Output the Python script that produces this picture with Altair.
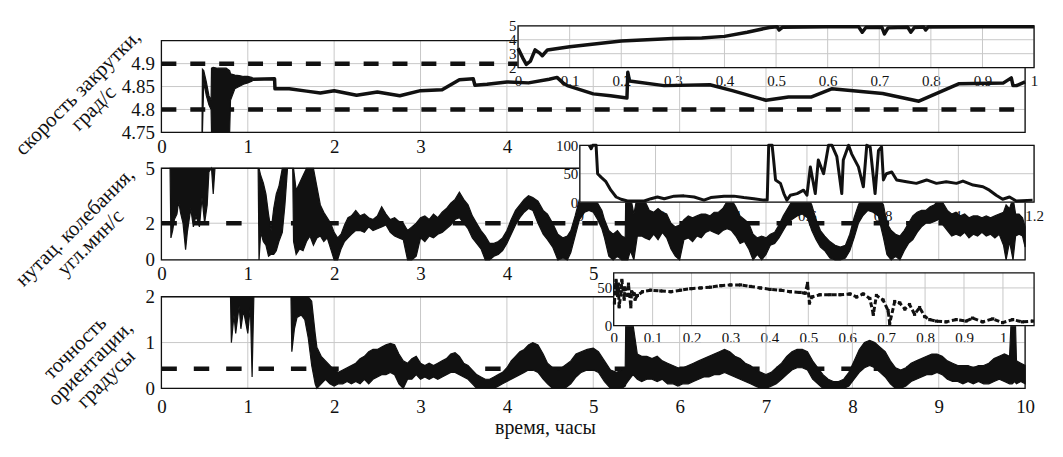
import altair as alt
import pandas as pd

FONT = "Liberation Serif"
INK = "#111111"
GRID = "#c8c8c8"

# ---------------- tick values ----------------
main_xticks = [0, 1, 2, 3, 4, 5, 6, 7, 8, 9, 10]
top_xlabels = [0, 1, 2, 3, 4]
mid_xlabels = [0, 1, 2, 3, 4, 5]
bot_xlabels = [0, 1, 2, 3, 4, 5, 6, 7, 8, 9, 10]
top_yticks = [4.75, 4.8, 4.85, 4.9]
mid_yticks = [0, 2, 5]
bot_yticks = [0, 1, 2]
in1_xticks = [0, 0.1, 0.2, 0.3, 0.4, 0.5, 0.6, 0.7, 0.8, 0.9, 1]
in1_yticks = [2, 3, 4, 5]
in2_xticks = [0, 0.2, 0.4, 0.6, 0.8, 1, 1.2]
in2_yticks = [0, 50, 100]
in3_xticks = [0, 0.1, 0.2, 0.3, 0.4, 0.5, 0.6, 0.7, 0.8, 0.9, 1]
in3_yticks = [0, 50]

# reference (dashed) levels
top_ref = [4.9, 4.8]
mid_ref = [2]
bot_ref = [0.43]

# ---------------- panel 1: spin rate ----------------
top_x = [1.05, 1.31, 1.315, 1.48, 1.68, 1.84, 2.0, 2.26, 2.5, 2.76, 3.0, 3.25, 3.45, 3.61, 3.63, 3.77,
         4.0, 4.25, 4.49, 4.58, 4.65, 4.7, 5.0, 5.2, 5.39, 5.40, 5.42, 5.82, 6.35, 6.61, 7.0, 7.26,
         7.52, 7.76, 8.35, 8.77, 9.23, 9.75, 9.84, 9.86, 9.9, 10]
top_v = [4.866, 4.867, 4.845, 4.845, 4.840, 4.836, 4.841, 4.831, 4.838, 4.830, 4.841, 4.843, 4.865,
         4.867, 4.853, 4.855, 4.860, 4.858, 4.866, 4.870, 4.858, 4.852, 4.834, 4.830, 4.825, 4.881,
         4.862, 4.852, 4.854, 4.841, 4.820, 4.827, 4.827, 4.845, 4.835, 4.818, 4.856, 4.858, 4.869,
         4.852, 4.852, 4.860]
topb_x = [0.47, 0.475, 0.49, 0.52, 0.55, 0.575, 0.58, 0.60, 0.65, 0.70, 0.75, 0.79, 0.80, 0.85, 0.90, 0.95, 1.00, 1.05]
topb_lo = [4.75, 4.75, 4.86, 4.83, 4.81, 4.80, 4.75, 4.75, 4.75, 4.75, 4.75, 4.75, 4.82, 4.845, 4.85, 4.855, 4.858, 4.862]
topb_hi = [4.75, 4.888, 4.885, 4.86, 4.83, 4.82, 4.89, 4.892, 4.89, 4.89, 4.89, 4.885, 4.878, 4.875, 4.874, 4.872, 4.872, 4.870]

# ---------------- panel 2: nutation (band lo/hi) ----------------
mid_x = [0.10, 0.11, 0.13, 0.15, 0.18, 0.20, 0.22, 0.25, 0.28, 0.30, 0.34, 0.37, 0.40, 0.44, 0.47, 0.50, 0.53, 0.55, 0.58, 0.60, 0.62,
         1.12, 1.13, 1.15, 1.18, 1.21, 1.24, 1.27, 1.30, 1.33, 1.36, 1.40, 1.43, 1.46, 1.52, 1.53, 1.56, 1.60, 1.64, 1.68, 1.72, 1.76, 1.80, 1.84, 1.88, 1.92, 1.96,
         2.00, 2.04, 2.08, 2.12, 2.16, 2.20, 2.25, 2.30, 2.35, 2.40, 2.45, 2.50, 2.55, 2.60, 2.65, 2.70, 2.75, 2.80, 2.85, 2.90, 2.95,
         3.00, 3.05, 3.10, 3.15, 3.20, 3.25, 3.30, 3.35, 3.40, 3.45, 3.50, 3.55, 3.60, 3.65, 3.70, 3.75, 3.80, 3.85, 3.90, 3.95,
         4.00, 4.05, 4.10, 4.15, 4.20, 4.25, 4.30, 4.36, 4.42, 4.47, 4.53, 4.59, 4.65, 4.70, 4.74, 4.79, 4.84, 4.90, 4.95,
         5.00, 5.05, 5.10, 5.13, 5.18, 5.23, 5.28, 5.33, 5.37, 5.38, 5.40, 5.43, 5.47, 5.51, 5.56, 5.60, 5.65, 5.70, 5.75, 5.80, 5.85, 5.90, 5.95,
         6.00, 6.05, 6.10, 6.15, 6.20, 6.25, 6.30, 6.35, 6.40, 6.45, 6.50, 6.55, 6.60, 6.65, 6.70, 6.75, 6.80, 6.85, 6.90, 6.95,
         7.00, 7.05, 7.10, 7.15, 7.20, 7.25, 7.30, 7.36, 7.42, 7.48, 7.53, 7.58, 7.63, 7.68, 7.74, 7.80, 7.86, 7.92, 7.97,
         8.02, 8.07, 8.12, 8.18, 8.24, 8.30, 8.36, 8.40, 8.45, 8.50, 8.55, 8.60, 8.65, 8.70, 8.75, 8.80, 8.85, 8.90, 8.95,
         9.00, 9.05, 9.10, 9.15, 9.20, 9.25, 9.30, 9.35, 9.40, 9.45, 9.50, 9.55, 9.60, 9.65, 9.70, 9.75, 9.78, 9.82, 9.86, 9.89, 9.93, 9.97, 10.0]
mid_lo = [5.0, 1.2, 1.6, 2.2, 2.5, 3.2, 2.6, 2.0, 0.55, 1.5, 2.8, 1.8, 2.4, 1.8, 3.4, 2.0, 3.0, 4.8, 5.0, 3.6, 5.0,
          5.0, 0.0, 1.5, 1.0, 0.8, 0.2, 0.3, 0.3, 0.5, 1.0, 1.5, 3.0, 5.0, 5.0, 1.0, 0.3, 0.6, 0.5, 1.0, 1.3, 0.8, 1.2, 1.3, 1.0, 1.2, 0.6,
          0.0, 0.0, 0.6, 1.0, 1.2, 1.4, 1.6, 1.6, 1.5, 1.8, 1.6, 1.7, 1.8, 1.9, 1.5, 1.3, 1.2, 1.1, 0.0, 0.0, 0.2,
          1.2, 1.0, 1.3, 1.2, 1.4, 1.5, 1.7, 1.9, 2.2, 2.3, 2.0, 1.7, 1.2, 0.9, 0.6, 0.0, 0.0, 0.2, 0.3, 0.5,
          0.9, 1.4, 1.9, 2.3, 2.6, 2.8, 2.7, 2.0, 1.4, 1.1, 0.7, 0.0, 0.1, 0.0, 0.4, 1.3, 2.2, 2.6, 2.7,
          2.6, 2.2, 1.7, 1.2, 0.2, 0.0, 0.2, 0.0, 0.0, 0.0, 0.0, 0.5, 0.0, 1.3, 1.3, 1.2, 1.1, 1.4, 1.1, 1.5, 1.2, 0.6, 0.2,
          0.0, 1.1, 1.2, 1.0, 1.3, 1.2, 1.5, 1.6, 1.5, 1.4, 1.6, 1.7, 1.6, 1.3, 0.9, 1.0, 0.6, 0.0, 0.3, 0.0,
          0.3, 0.8, 0.9, 1.2, 1.6, 2.0, 2.2, 2.4, 2.5, 2.3, 1.6, 1.1, 0.7, 0.5, 0.1, 0.0, 0.0, 0.1, 0.5,
          1.2, 2.0, 2.4, 2.7, 2.6, 2.4, 1.2, 0.3, 0.0, 0.2, 0.0, 0.5, 0.9, 1.1, 1.5, 1.8, 2.0, 2.0, 2.1,
          2.2, 1.9, 1.6, 1.3, 1.4, 1.3, 1.5, 1.2, 1.4, 1.3, 1.5, 1.3, 1.4, 1.2, 1.4, 0.8, 0.0, 1.0, 0.0, 1.3, 1.4, 1.3, 0.7]
mid_hi = [5.0, 5.0, 5.0, 5.0, 5.0, 5.0, 5.0, 5.0, 5.0, 5.0, 5.0, 5.0, 5.0, 5.0, 5.0, 5.0, 5.0, 5.0, 5.0, 5.0, 5.0,
          5.0, 5.0, 4.6, 4.2, 3.6, 2.5, 1.6, 2.8, 3.6, 4.0, 5.0, 5.0, 5.0, 5.0, 5.0, 3.8, 4.2, 4.6, 5.0, 5.0, 5.0, 4.0, 3.0, 2.6, 2.3, 2.0,
          1.5, 1.2, 1.4, 1.9, 2.3, 2.4, 2.7, 2.4, 2.5, 2.3, 2.2, 2.4, 2.9, 2.5, 2.2, 2.3, 2.1, 2.0, 1.6, 1.8, 2.0,
          2.3, 2.4, 2.2, 2.5, 2.3, 2.6, 2.8, 3.1, 3.3, 3.7, 3.3, 3.0, 2.4, 2.0, 1.6, 1.3, 0.9, 0.9, 1.0, 1.2,
          1.6, 2.2, 2.7, 3.0, 3.3, 3.5, 3.4, 3.2, 2.7, 2.5, 2.0, 1.4, 1.2, 1.3, 1.6, 2.4, 3.3, 3.6, 3.6,
          3.4, 3.1, 2.7, 2.2, 1.6, 1.4, 1.6, 1.3, 1.2, 5.0, 5.0, 3.5, 2.5, 3.5, 3.4, 3.2, 2.7, 2.6, 2.8, 2.6, 2.5, 2.0, 1.8,
          1.9, 2.2, 2.4, 2.3, 2.4, 2.5, 2.5, 2.4, 2.6, 2.6, 2.8, 3.2, 3.3, 2.9, 2.4, 2.2, 2.0, 1.4, 1.2, 1.3,
          1.2, 1.4, 1.5, 1.9, 2.4, 2.8, 3.2, 3.6, 3.7, 3.5, 3.0, 2.2, 1.6, 1.3, 1.0, 0.8, 0.7, 0.8, 1.4,
          2.3, 3.0, 3.5, 3.8, 3.7, 3.5, 3.0, 2.0, 1.6, 1.4, 1.3, 1.6, 2.0, 2.4, 2.6, 2.7, 2.7, 2.9, 3.0,
          3.3, 3.1, 2.7, 2.5, 2.6, 2.4, 2.5, 2.3, 2.4, 2.4, 2.3, 2.4, 2.3, 2.4, 2.5, 2.6, 3.0, 2.8, 3.4, 2.5, 2.5, 2.3, 1.8]

# ---------------- panel 3: pointing accuracy (band lo/hi) ----------------
bot_x = [0.80, 0.81, 0.84, 0.86, 0.90, 0.92, 0.95, 0.97, 1.00, 1.03, 1.05, 1.07,
         1.50, 1.51, 1.54, 1.57, 1.62, 1.66, 1.70, 1.74, 1.78, 1.80, 1.85, 1.90, 1.95,
         2.00, 2.05, 2.10, 2.15, 2.20, 2.25, 2.30, 2.35, 2.40, 2.45, 2.50, 2.55, 2.60, 2.65, 2.70, 2.75, 2.80, 2.85, 2.90, 2.95,
         3.00, 3.05, 3.10, 3.15, 3.20, 3.25, 3.30, 3.35, 3.40, 3.45, 3.50, 3.55, 3.60, 3.65, 3.70, 3.75, 3.80, 3.85, 3.90, 3.95,
         4.00, 4.05, 4.10, 4.15, 4.20, 4.25, 4.30, 4.36, 4.42, 4.47, 4.53, 4.60, 4.67, 4.74, 4.80, 4.86, 4.93,
         5.00, 5.06, 5.13, 5.20, 5.27, 5.33, 5.37, 5.38, 5.42, 5.46, 5.51, 5.56, 5.62, 5.68, 5.74, 5.80, 5.86, 5.92, 5.98,
         6.04, 6.10, 6.16, 6.22, 6.28, 6.34, 6.40, 6.46, 6.52, 6.58, 6.64, 6.70, 6.76, 6.82, 6.88, 6.94,
         7.00, 7.06, 7.12, 7.18, 7.24, 7.30, 7.36, 7.42, 7.48, 7.54, 7.60, 7.66, 7.72, 7.78, 7.84, 7.90, 7.96,
         8.02, 8.08, 8.14, 8.20, 8.26, 8.32, 8.38, 8.44, 8.50, 8.56, 8.62, 8.68, 8.74, 8.80, 8.86, 8.92, 8.98,
         9.04, 9.10, 9.16, 9.22, 9.28, 9.34, 9.40, 9.46, 9.52, 9.58, 9.64, 9.70, 9.76, 9.82, 9.85, 9.88, 9.90, 9.95, 10.0]
bot_lo = [2.0, 1.0, 1.6, 1.2, 1.8, 1.3, 1.7, 1.5, 1.2, 1.8, 0.25, 2.0,
          2.0, 0.8, 1.3, 1.55, 1.6, 1.5, 1.1, 0.5, 0.1, 0.0, 0.1, 0.2, 0.1,
          0.05, 0.1, 0.1, 0.15, 0.1, 0.15, 0.1, 0.2, 0.1, 0.2, 0.25, 0.3, 0.3, 0.35, 0.3, 0.1, 0.0, 0.2, 0.2, 0.3,
          0.2, 0.25, 0.2, 0.25, 0.2, 0.25, 0.3, 0.35, 0.35, 0.3, 0.25, 0.2, 0.1, 0.0, 0.0, 0.0, 0.0, 0.0, 0.05, 0.1,
          0.15, 0.2, 0.25, 0.3, 0.35, 0.4, 0.4, 0.35, 0.2, 0.1, 0.0, 0.0, 0.0, 0.1, 0.25, 0.35, 0.4,
          0.4, 0.35, 0.15, 0.0, 0.0, 0.0, 0.05, 0.1, 0.2, 0.3, 0.2, 0.15, 0.2, 0.2, 0.15, 0.2, 0.1, 0.1, 0.05,
          0.1, 0.1, 0.15, 0.2, 0.25, 0.25, 0.3, 0.3, 0.35, 0.3, 0.25, 0.2, 0.15, 0.1, 0.05, 0.0,
          0.0, 0.05, 0.1, 0.2, 0.3, 0.4, 0.45, 0.45, 0.4, 0.2, 0.1, 0.0, 0.0, 0.0, 0.0, 0.0, 0.05,
          0.2, 0.35, 0.45, 0.5, 0.45, 0.35, 0.25, 0.1, 0.0, 0.0, 0.05, 0.15, 0.2, 0.25, 0.3, 0.3, 0.35,
          0.3, 0.2, 0.15, 0.15, 0.1, 0.15, 0.1, 0.15, 0.1, 0.1, 0.15, 0.2, 0.15, 0.1, 0.1, 0.15, 0.1, 0.15, 0.1]
bot_hi = [2.0, 2.0, 2.0, 2.0, 2.0, 2.0, 2.0, 2.0, 2.0, 2.0, 2.0, 2.0,
          2.0, 2.0, 2.0, 2.0, 2.0, 2.0, 2.0, 1.9, 1.2, 0.9, 0.7, 0.6, 0.5,
          0.4, 0.35, 0.4, 0.45, 0.5, 0.55, 0.65, 0.7, 0.8, 0.85, 0.85, 0.9, 0.95, 0.98, 0.95, 0.75, 0.6, 0.55, 0.65, 0.7,
          0.55, 0.5, 0.55, 0.5, 0.55, 0.6, 0.65, 0.75, 0.78, 0.7, 0.55, 0.5, 0.4, 0.3, 0.25, 0.2, 0.2, 0.25, 0.3, 0.35,
          0.45, 0.6, 0.7, 0.8, 0.85, 0.95, 1.0, 0.95, 0.75, 0.55, 0.45, 0.4, 0.5, 0.6, 0.75, 0.8, 0.85,
          0.88, 0.8, 0.6, 0.4, 0.35, 0.4, 0.45, 2.0, 2.0, 1.4, 0.75, 0.7, 0.7, 0.65, 0.7, 0.6, 0.55, 0.5, 0.45,
          0.45, 0.5, 0.55, 0.6, 0.65, 0.7, 0.75, 0.8, 0.85, 0.8, 0.7, 0.65, 0.55, 0.5, 0.4, 0.35,
          0.3, 0.35, 0.45, 0.55, 0.7, 0.8, 0.85, 0.85, 0.8, 0.6, 0.45, 0.3, 0.2, 0.15, 0.15, 0.2, 0.35,
          0.6, 0.85, 1.0, 1.05, 1.0, 0.9, 0.8, 0.6, 0.45, 0.4, 0.45, 0.55, 0.6, 0.65, 0.7, 0.75, 0.75,
          0.7, 0.6, 0.55, 0.5, 0.5, 0.5, 0.45, 0.5, 0.5, 0.55, 0.65, 0.7, 0.75, 0.7, 2.0, 2.0, 0.6, 0.55, 0.5]

# ---------------- insets ----------------
in1_x = [0, 0.009, 0.016, 0.024, 0.033, 0.042, 0.047, 0.057, 0.1, 0.2, 0.3, 0.356, 0.4, 0.444, 0.487, 0.502,
         0.506, 0.513, 0.6, 0.66, 0.667, 0.674, 0.705, 0.71, 0.717, 0.755, 0.761, 0.768, 0.786, 0.79, 0.795, 0.9, 1.0]
in1_v = [3.38, 2.7, 2.23, 2.46, 3.27, 3.04, 2.85, 3.27, 3.5, 3.91, 4.08, 4.12, 4.24, 4.54, 4.88, 4.93,
         4.7, 4.9, 4.93, 4.93, 4.54, 4.88, 4.9, 4.42, 4.85, 4.9, 4.54, 4.88, 4.92, 4.7, 4.92, 4.93, 4.93]

in2_x = [0.025, 0.030, 0.034, 0.043, 0.047, 0.056, 0.069, 0.082, 0.096, 0.109, 0.126, 0.170, 0.188, 0.205, 0.223,
         0.249, 0.275, 0.302, 0.328, 0.346, 0.381, 0.407, 0.433, 0.460, 0.486, 0.495, 0.499, 0.508, 0.512, 0.517,
         0.530, 0.539, 0.547, 0.556, 0.574, 0.591, 0.600, 0.609, 0.622, 0.630, 0.644, 0.657, 0.666, 0.679, 0.692,
         0.696, 0.710, 0.718, 0.736, 0.749, 0.758, 0.767, 0.780, 0.789, 0.797, 0.802, 0.810, 0.824, 0.837, 0.863,
         0.889, 0.916, 0.942, 0.968, 0.995, 1.012, 1.039, 1.065, 1.082, 1.100, 1.117, 1.135, 1.153, 1.196]
in2_v = [100, 94, 100, 100, 50, 44, 36, 21, 9, 5, 2, 2, 6, 9, 6,
         10.5, 11, 9, 3.5, 8, 10.5, 10.5, 8, 6, 3.5, 3.5, 100, 100, 74, 39,
         33, 15, 3.5, 12, 15, 21, 12, 62, 15, 74, 50, 100, 100, 80, 15,
         74, 100, 85, 62, 27, 100, 97, 15, 91, 97, 39, 50, 53, 39, 36,
         33, 39, 33, 36, 33, 37, 30, 27, 21, 12, 5, 9, 2, 3.5]

in3_x = [0.002, 0.004, 0.006, 0.010, 0.012, 0.014, 0.019, 0.021, 0.027, 0.029, 0.036, 0.038, 0.044, 0.046,
         0.053, 0.055, 0.061, 0.074, 0.095, 0.121, 0.147, 0.172, 0.198, 0.223, 0.249, 0.275, 0.300, 0.326,
         0.351, 0.377, 0.402, 0.428, 0.454, 0.479, 0.492, 0.498, 0.503, 0.509, 0.530, 0.556, 0.581, 0.607,
         0.624, 0.641, 0.658, 0.667, 0.675, 0.692, 0.705, 0.709, 0.722, 0.735, 0.748, 0.760, 0.773, 0.786,
         0.799, 0.812, 0.829, 0.854, 0.880, 0.905, 0.922, 0.948, 0.974, 0.999, 1.025, 1.050, 1.076]
in3_v = [30, 50, 60, 40, 55, 25, 45, 60, 35, 50, 40, 55, 25, 45,
         42, 35, 40, 45, 47, 46, 45, 47, 49, 50, 51, 53, 54, 54,
         52, 50, 48, 47, 45, 44, 43, 56, 30, 38, 41, 41, 41, 42,
         38, 42, 36, 15, 40, 34, 20, 3, 32, 30, 22, 28, 15, 24,
         12, 8, 6, 5, 8, 6, 10, 5, 9, 4, 8, 5, 6]

# ---------------- layout (plot-area pixels) ----------------
W, H = 885, 420
MAIN_XR = [0, 867]
TOP_YR, MID_YR, BOT_YR = [112, 20], [240, 148], [369, 277]
IN1_XR, IN1_YR = [358, 876], [47, 5]
IN2_XR, IN2_YR = [420, 876], [182, 125]
IN3_XR, IN3_YR = [454, 876], [306, 253]
NUM_FMT = "~r"


def xaxis(values, y_px, size, pad, **kw):
    return alt.Axis(orient="bottom", offset=y_px - H, values=values, format=NUM_FMT, grid=False,
                    domain=False, ticks=False, labelFont=FONT, labelFontSize=size, labelColor=INK,
                    labelPadding=pad, labelFlush=False, labelOverlap=False, **kw)


def yaxis(values, x_px, size, pad, **kw):
    return alt.Axis(orient="left", offset=-x_px, values=values, format=NUM_FMT, grid=False,
                    domain=False, ticks=False, labelFont=FONT, labelFontSize=size, labelColor=INK,
                    labelPadding=pad, labelFlush=False, labelOverlap=False, **kw)


def ytitle(lines, tx, ty):
    return dict(title=lines, titleFont=FONT, titleFontSize=21, titleFontWeight="normal", titleColor=INK,
                titleAngle=315, titleAlign="center", titleBaseline="middle", titleX=tx, titleY=ty,
                titleLineHeight=22)


def panel(xdom, xr, ydom, yr, xgrid, ygrid, ax, ay, parts, inset=False):
    sx = alt.Scale(domain=xdom, range=xr, nice=False, zero=False)
    sy = alt.Scale(domain=ydom, range=yr, nice=False, zero=False)

    def X(f):
        return alt.X(f + ":Q", scale=sx, axis=ax)

    def Y(f):
        return alt.Y(f + ":Q", scale=sy, axis=ay)

    box = pd.DataFrame({"x0": [xdom[0]], "x1": [xdom[1]], "y0": [ydom[0]], "y1": [ydom[1]]})
    layers = []
    if inset:
        layers.append(alt.Chart(box).mark_rect(fill="white", strokeOpacity=0)
                      .encode(x=X("x0"), x2="x1", y=Y("y0"), y2="y1"))
    vg = pd.DataFrame({"gx": xgrid})
    vg["y0"] = ydom[0]
    vg["y1"] = ydom[1]
    layers.append(alt.Chart(vg).mark_rule(color=GRID, strokeWidth=1)
                  .encode(x=X("gx"), y=Y("y0"), y2="y1"))
    hg = pd.DataFrame({"gy": ygrid})
    hg["x0"] = xdom[0]
    hg["x1"] = xdom[1]
    layers.append(alt.Chart(hg).mark_rule(color=GRID, strokeWidth=1)
                  .encode(y=Y("gy"), x=X("x0"), x2="x1"))
    for make in parts:
        layers.append(make(X, Y))
    layers.append(alt.Chart(box).mark_rect(fillOpacity=0, stroke=INK, strokeWidth=1.3)
                  .encode(x=X("x0"), x2="x1", y=Y("y0"), y2="y1"))
    return alt.layer(*layers)


def ref_rule(levels, x0, x1, dash):
    def make(X, Y):
        d = pd.DataFrame({"ry": levels})
        d["x0"] = x0
        d["x1"] = x1
        return alt.Chart(d).mark_rule(color=INK, strokeWidth=4.5, strokeDash=dash).encode(
            y=Y("ry"), x=X("x0"), x2="x1")
    return make


def band(xs, lo, hi):
    def make(X, Y):
        d = pd.DataFrame({"bx": xs, "lo": lo, "hi": hi})
        return alt.Chart(d).mark_area(fill=INK, stroke=INK, strokeWidth=1.2).encode(
            x=X("bx"), y=Y("lo"), y2="hi")
    return make


def line(xs, vs, width, dash=None):
    def make(X, Y):
        d = pd.DataFrame({"lx": xs, "lv": vs, "i": list(range(len(xs)))})
        kw = dict(color=INK, strokeWidth=width, strokeJoin="round")
        if dash:
            kw["strokeDash"] = dash
        return alt.Chart(d).mark_line(**kw).encode(x=X("lx"), y=Y("lv"), order="i:Q")
    return make


def squares(xs, vs, size):
    def make(X, Y):
        d = pd.DataFrame({"px": xs, "pv": vs})
        return alt.Chart(d).mark_square(color=INK, size=size, opacity=1).encode(x=X("px"), y=Y("pv"))
    return make


p_top = panel([0, 10], MAIN_XR, [4.75, 4.95], TOP_YR, main_xticks, top_yticks,
              xaxis(top_xlabels, TOP_YR[0], 19, 5, title=None),
              yaxis(top_yticks, 0, 19, 7, **ytitle(["скорость закрутки,", "град/с"], -84, 72)),
              [ref_rule(top_ref, 0, 10, [15, 14]), band(topb_x, topb_lo, topb_hi), line(top_x, top_v, 3.5)])

p_mid = panel([0, 10], MAIN_XR, [0, 5], MID_YR, main_xticks, mid_yticks,
              xaxis(mid_xlabels, MID_YR[0], 19, 5, title=None),
              yaxis(mid_yticks, 0, 19, 7, **ytitle(["нутац. колебания,", "угл.мин/с"], -87, 207)),
              [ref_rule(mid_ref, 0, 10, [15.5, 17]), band(mid_x, mid_lo, mid_hi)])

p_bot = panel([0, 10], MAIN_XR, [0, 2], BOT_YR, main_xticks, bot_yticks,
              xaxis(bot_xlabels, BOT_YR[0], 19, 9, title="время, часы", titleFont=FONT, titleFontSize=20,
                    titleFontWeight="normal", titleColor=INK, titleX=385, titleY=39,
                    titleAlign="center", titleBaseline="middle"),
              yaxis(bot_yticks, 0, 19, 7, **ytitle(["точность", "ориентации,", "градусы"], -87, 328)),
              [ref_rule(bot_ref, 0, 10, [15.5, 17]), band(bot_x, bot_lo, bot_hi)])

p_in1 = panel([0, 1], IN1_XR, [2, 5], IN1_YR, in1_xticks, in1_yticks,
              xaxis(in1_xticks, IN1_YR[0], 15, 6, title=None),
              yaxis(in1_yticks, IN1_XR[0], 15, 2, title=None),
              [line(in1_x, in1_v, 3.5)], inset=True)

p_in2 = panel([0, 1.2], IN2_XR, [0, 100], IN2_YR, in2_xticks, in2_yticks,
              xaxis(in2_xticks, IN2_YR[0], 15, 6, title=None),
              yaxis(in2_yticks, IN2_XR[0], 15, 2, title=None),
              [line(in2_x, in2_v, 3)], inset=True)

p_in3 = panel([0, 1.08], IN3_XR, [0, 70], IN3_YR, in3_xticks, in3_yticks,
              xaxis(in3_xticks, IN3_YR[0], 15, 5, title=None),
              yaxis(in3_yticks, IN3_XR[0], 15, 2, title=None),
              [line(in3_x, in3_v, 3, [5, 2.5]), squares(in3_x, in3_v, 10)], inset=True)

chart = (
    alt.layer(p_top, p_mid, p_bot, p_in1, p_in2, p_in3)
    .resolve_scale(x="independent", y="independent")
    .properties(width=W, height=H, autosize=alt.AutoSizeParams(type="none"),
                padding={"left": 154, "top": 12, "right": 12, "bottom": 12})
    .configure(font=FONT)
    .configure_axis(labelFont=FONT, titleFont=FONT)
    .configure_view(stroke=None)
)

chart.save("out.html", embed_options={"renderer": "svg", "actions": False})
